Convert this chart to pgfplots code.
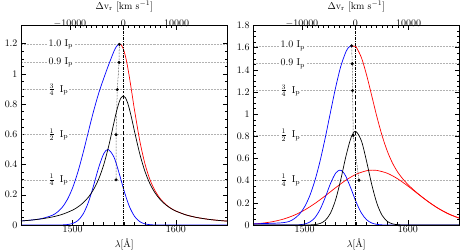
\documentclass[border=0pt]{standalone}
\usepackage{pgfplots}
\pgfplotsset{compat=1.18}
\tikzset{lab/.style={anchor=west, fill=white, inner sep=1pt}}
\pgfplotsset{
  panel/.style={
    scale only axis, width=206.6bp, height=199.5bp,
    xmin=1450, xmax=1650, ymin=0,
    xtick={1500,1600}, minor x tick num=9,
    xtick pos=left, ytick pos=both,
    tick align=inside,
    major tick length=5bp, minor tick length=2.5bp,
    xticklabel style={yshift=2.5bp},
    /pgf/number format/1000 sep={},
    xlabel={$\lambda$[\AA]},
    xlabel style={at={(axis description cs:0.5,0)}, anchor=center, yshift=-19bp},
    every tick/.style={black, line width=0.4pt},
    axis line style={line width=0.6pt},
    clip=false,
  },
  vel/.style={
    scale only axis, width=206.6bp, height=199.5bp,
    xmin=-19160.4, xmax=19547.5, ymin=0, ymax=1,
    ytick=\empty, xtick pos=right, xticklabel pos=right,
    xtick={-10000,0,10000}, minor x tick num=9, scaled x ticks=false,
    /pgf/number format/1000 sep={},
    xticklabel style={yshift=-5bp},
    tick align=inside,
    major tick length=5bp, minor tick length=2.5bp,
    every tick/.style={black, line width=0.4pt},
    axis line style={line width=0.6pt},
    xlabel={$\Delta$v$_{\mathrm{r}}$ [km s$^{-1}$]},
    xlabel style={at={(axis description cs:0.5,1)}, anchor=center, yshift=19bp},
  },
  lev/.style={gray!60, densely dotted, line width=0.5pt},
  crv/.style={line width=0.7pt, smooth},
  vline/.style={black, line width=0.45pt, dash pattern=on 3pt off 1.2pt on 0.6pt off 1.2pt},
}
\begin{document}
\begin{tikzpicture}
\useasboundingbox (0,0) rectangle (463bp,252bp);

% ---------------- left panel ----------------
\begin{axis}[panel, at={(21bp,27bp)}, anchor=south west, ymax=1.32,
  ytick={0,0.2,0.4,0.6,0.8,1,1.2}, minor y tick num=3]
\addplot[lev] coordinates {(1450,1.195) (1650,1.195)};
\addplot[lev] coordinates {(1450,1.0755) (1650,1.0755)};
\addplot[lev] coordinates {(1450,0.896) (1650,0.896)};
\addplot[lev] coordinates {(1450,0.5975) (1650,0.5975)};
\addplot[lev] coordinates {(1450,0.299) (1650,0.299)};
\node[lab] at (axis cs:1475.5,1.195) {1.0 I$_{\mathrm{p}}$};
\node[lab] at (axis cs:1475.5,1.0755) {0.9 I$_{\mathrm{p}}$};
\node[lab] at (axis cs:1475.5,0.896) {$\frac{3}{4}$\hspace{5bp}I$_{\mathrm{p}}$};
\node[lab] at (axis cs:1475.5,0.5975) {$\frac{1}{2}$\hspace{5bp}I$_{\mathrm{p}}$};
\node[lab] at (axis cs:1475.5,0.299) {$\frac{1}{4}$\hspace{5bp}I$_{\mathrm{p}}$};
% small blue component
\addplot[crv, blue] coordinates {(1450,0)(1480,0)(1490,0.0008)(1495,0.003)(1500,0.0102)(1505,0.0293)(1510,0.0711)(1515,0.146)(1520,0.2544)(1525,0.3757)(1530,0.4703)(1534.3,0.5)(1540,0.4491)(1545,0.3425)(1550,0.2214)(1555,0.1213)(1560,0.0564)(1565,0.0222)(1570,0.0074)(1575,0.0021)(1580,0.0005)(1590,0)(1650,0)};
% total, blue half
\addplot[crv, blue] coordinates {(1450,0.0265)(1460,0.0327)(1470,0.0425)(1480,0.0634)(1485,0.0842)(1490,0.1178)(1495,0.1702)(1500,0.2467)(1505,0.3491)(1510,0.4742)(1515,0.6113)(1520,0.7465)(1525,0.8670)(1530,0.9686)(1535,1.0626)(1540,1.1496)(1542.5,1.1823)(1545,1.1978)(1545.5,1.1981)};
% total, red half
\addplot[crv, red] coordinates {(1545.5,1.1981)(1547,1.1919)(1549,1.1662)(1551,1.1195)(1553,1.0545)(1555,0.9755)(1557.5,0.8663)(1560,0.7553)(1565,0.5564)(1570,0.4047)(1575,0.2974)(1580,0.2236)(1585,0.1727)(1590,0.1370)(1595,0.1111)(1600,0.0922)(1610,0.0663)(1620,0.0500)(1630,0.0389)(1640,0.0311)(1650,0.0254)};
% black component
\addplot[crv, black] coordinates {(1450,0.0265)(1460,0.0325)(1470,0.0408)(1480,0.0527)(1490,0.0705)(1500,0.0986)(1505,0.1189)(1510,0.1459)(1515,0.1821)(1520,0.2318)(1525,0.3009)(1530,0.3968)(1535,0.5253)(1540,0.6786)(1542.5,0.7525)(1545,0.8125)(1547,0.8432)(1549,0.854)(1551,0.8432)(1553,0.8125)(1555,0.766)(1557.5,0.694)(1560,0.6161)(1565,0.47)(1570,0.3547)(1575,0.2704)(1580,0.21)(1585,0.1663)(1590,0.1342)(1595,0.1101)(1600,0.0918)(1610,0.0663)(1620,0.05)(1630,0.0389)(1640,0.0311)(1650,0.0254)};
\addplot[vline] coordinates {(1549,0) (1549,1.32)};
\addplot[black, densely dotted, line width=0.5pt] coordinates {(1545.2,1.195)(1544.9,1.0755)(1543.2,0.896)(1542,0.5975)(1542,0.299)};
\addplot[only marks, mark=*, mark size=1.3pt, black] coordinates {(1545.2,1.195)(1544.9,1.0755)(1543.2,0.896)(1542,0.5975)(1542,0.299)};
\end{axis}
\begin{axis}[vel, at={(21bp,27bp)}, anchor=south west]
\end{axis}

% ---------------- right panel ----------------
\begin{axis}[panel, at={(253bp,27bp)}, anchor=south west, ymax=1.8,
  ytick={0,0.2,0.4,0.6,0.8,1,1.2,1.4,1.6,1.8}, minor y tick num=3]
\addplot[lev] coordinates {(1450,1.617) (1650,1.617)};
\addplot[lev] coordinates {(1450,1.455) (1650,1.455)};
\addplot[lev] coordinates {(1450,1.213) (1650,1.213)};
\addplot[lev] coordinates {(1450,0.8085) (1650,0.8085)};
\addplot[lev] coordinates {(1450,0.404) (1650,0.404)};
\node[lab] at (axis cs:1475.5,1.617) {1.0 I$_{\mathrm{p}}$};
\node[lab] at (axis cs:1475.5,1.455) {0.9 I$_{\mathrm{p}}$};
\node[lab] at (axis cs:1475.5,1.213) {$\frac{3}{4}$\hspace{5bp}I$_{\mathrm{p}}$};
\node[lab] at (axis cs:1475.5,0.8085) {$\frac{1}{2}$\hspace{5bp}I$_{\mathrm{p}}$};
\node[lab] at (axis cs:1475.5,0.404) {$\frac{1}{4}$\hspace{5bp}I$_{\mathrm{p}}$};
% broad red component
\addplot[crv, red] coordinates {(1450,0.009)(1460,0.0175)(1470,0.0319)(1480,0.0548)(1490,0.0888)(1500,0.1355)(1510,0.1948)(1520,0.2638)(1530,0.3366)(1540,0.4048)(1550,0.4587)(1560,0.4897)(1566,0.495)(1570,0.4926)(1580,0.467)(1590,0.417)(1600,0.351)(1610,0.2783)(1620,0.208)(1630,0.1464)(1640,0.0971)(1650,0.0607)};
% small blue component
\addplot[crv, blue] coordinates {(1450,0)(1490,0)(1495,0.0025)(1500,0.0089)(1505,0.0267)(1510,0.067)(1515,0.1413)(1520,0.2506)(1525,0.3736)(1530,0.4683)(1534,0.495)(1537,0.4798)(1540,0.4368)(1545,0.3252)(1550,0.2035)(1555,0.1071)(1560,0.0473)(1565,0.0176)(1570,0.0055)(1575,0.0014)(1580,0.0003)(1590,0)(1650,0)};
% black component
\addplot[crv, black] coordinates {(1450,0)(1500,0)(1505,0.0009)(1510,0.0039)(1515,0.0139)(1520,0.042)(1525,0.1069)(1530,0.2287)(1535,0.4113)(1540,0.6217)(1545,0.7901)(1549.4,0.845)(1555,0.7578)(1560,0.5721)(1565,0.363)(1570,0.1936)(1575,0.0868)(1580,0.0327)(1585,0.0104)(1590,0.0028)(1595,0.0006)(1600,0)(1650,0)};
% total, blue half
\addplot[crv, blue] coordinates {(1450,0.012)(1460,0.013)(1470,0.016)(1475,0.018)(1480,0.022)(1485,0.032)(1490,0.057)(1495,0.099)(1500,0.1651)(1505,0.2653)(1510,0.4033)(1515,0.58)(1520,0.7897)(1525,1.0176)(1530,1.2409)(1535,1.432)(1540,1.564)(1543,1.6059)(1545.5,1.617)};
% total, red half
\addplot[crv, red] coordinates {(1545.5,1.617)(1548,1.612)(1550,1.6035)(1555,1.5088)(1560,1.3518)(1565,1.1637)(1570,0.9742)(1575,0.805)(1580,0.6667)(1585,0.5595)(1590,0.4784)(1595,0.4159)(1600,0.365)(1605,0.3209)(1610,0.2807)(1620,0.208)(1630,0.1464)(1640,0.0971)(1650,0.0607)};
\addplot[vline] coordinates {(1549,0) (1549,1.8)};
\addplot[black, densely dotted, line width=0.5pt] coordinates {(1545.5,1.617)(1546.1,1.455)(1546.4,1.213)(1547,0.8085)(1552.6,0.404)};
\addplot[only marks, mark=*, mark size=1.3pt, black] coordinates {(1545.5,1.617)(1546.1,1.455)(1546.4,1.213)(1547,0.8085)(1552.6,0.404)};
\end{axis}
\begin{axis}[vel, at={(253bp,27bp)}, anchor=south west]
\end{axis}
\end{tikzpicture}
\end{document}
